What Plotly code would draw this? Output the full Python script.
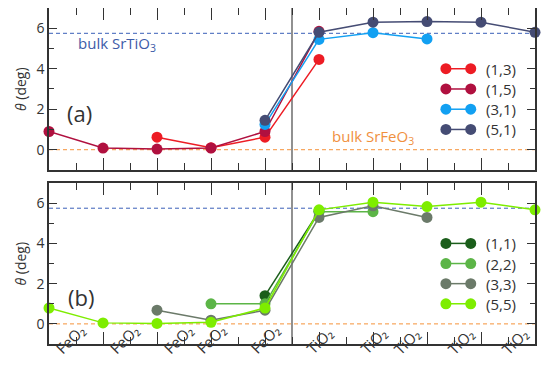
import plotly.graph_objects as go

layers = ["FeO₂"] * 5 + ["TiO₂"] * 5
positions = list(range(10))

# panel (a)
names_a = ["(1,3)", "(1,5)", "(3,1)", "(5,1)"]
vals_a = [
    [None, None, 0.62, 0.10, 0.62, 4.46, None, None, None, None],
    [0.90, 0.08, 0.03, 0.08, 0.90, 5.85, None, None, None, None],
    [None, None, None, None, 1.25, 5.45, 5.78, 5.47, None, None],
    [None, None, None, None, 1.45, 5.80, 6.30, 6.33, 6.30, 5.80],
]
colors_a = ["#ed1c24", "#b0103f", "#12a0f2", "#454c74"]

# panel (b)
names_b = ["(1,1)", "(2,2)", "(3,3)", "(5,5)"]
vals_b = [
    [None, None, None, None, 1.40, 5.60, None, None, None, None],
    [None, None, None, 1.00, 1.00, 5.58, 5.58, None, None, None],
    [None, None, 0.68, 0.18, 0.68, 5.29, 5.87, 5.29, None, None],
    [0.79, 0.05, 0.02, 0.08, 0.79, 5.67, 6.05, 5.83, 6.05, 5.67],
]
colors_b = ["#1b5e1b", "#5cb547", "#6b7a69", "#7eed00"]

bulk_SrTiO3 = 5.75
bulk_SrFeO3 = 0.0
interface = 4.5

FONT = "Open Sans"
INK = "#333333"

fig = go.Figure()

for nm, v, c in zip(names_a, vals_a, colors_a):
    fig.add_trace(go.Scatter(x=positions, y=v, mode="lines+markers", name=nm,
                             line=dict(color=c, width=1.5),
                             marker=dict(color=c, size=11),
                             cliponaxis=False, showlegend=False,
                             xaxis="x", yaxis="y"))
for nm, v, c in zip(names_b, vals_b, colors_b):
    fig.add_trace(go.Scatter(x=positions, y=v, mode="lines+markers", name=nm,
                             line=dict(color=c, width=1.5),
                             marker=dict(color=c, size=11),
                             cliponaxis=False, showlegend=False,
                             xaxis="x2", yaxis="y2"))

shapes = []
annotations = []
for xr, yr in (("x", "y"), ("x2", "y2")):
    shapes.append(dict(type="line", xref=xr, yref=yr, x0=0, x1=9, y0=bulk_SrTiO3, y1=bulk_SrTiO3,
                       line=dict(color="#3a5fb8", width=1, dash="4px,3px"), layer="below"))
    shapes.append(dict(type="line", xref=xr, yref=yr, x0=0, x1=9, y0=bulk_SrFeO3, y1=bulk_SrFeO3,
                       line=dict(color="#f5923a", width=1, dash="4px,3px"), layer="below"))
    shapes.append(dict(type="line", xref=xr, yref=yr + " domain", x0=interface, x1=interface, y0=0, y1=1,
                       line=dict(color="#555555", width=1.3), layer="below"))
    annotations.append(dict(xref=xr + " domain", yref=yr + " domain", x=0, y=0.5, xshift=-28,
                            text="<i>θ</i> (deg)", textangle=-90, showarrow=False,
                            xanchor="center", yanchor="middle",
                            font=dict(family=FONT, size=14, color=INK)))

# custom legends (line with two markers)
def add_legend(names, colors, xr, yr):
    for i, (nm, c) in enumerate(zip(names, colors)):
        yy = 4 - i
        shapes.append(dict(type="line", xref=xr, yref=yr, x0=7.35, x1=7.81, y0=yy, y1=yy,
                           line=dict(color=c, width=1.5)))
        for xa in (7.35, 7.81):
            shapes.append(dict(type="circle", xref=xr, yref=yr, xsizemode="pixel", ysizemode="pixel",
                               xanchor=xa, yanchor=yy, x0=-5.5, x1=5.5, y0=-5.5, y1=5.5,
                               fillcolor=c, line=dict(color=c, width=0)))
        annotations.append(dict(xref=xr, yref=yr, x=8.05, y=yy, text=nm, showarrow=False,
                                xanchor="left", yanchor="middle",
                                font=dict(family=FONT, size=15, color=INK)))

add_legend(names_a, colors_a, "x", "y")
add_legend(names_b, colors_b, "x2", "y2")

annotations.append(dict(xref="x", yref="y", x=0.5, y=5.2, text="bulk SrTiO<sub>3</sub>", showarrow=False,
                        xanchor="left", yanchor="middle", font=dict(family=FONT, size=15, color="#3d5ba8")))
annotations.append(dict(xref="x", yref="y", x=5.2, y=0.62, text="bulk SrFeO<sub>3</sub>", showarrow=False,
                        xanchor="left", yanchor="middle", font=dict(family=FONT, size=15, color="#f0903e")))
annotations.append(dict(xref="x", yref="y", x=0.57, y=1.8, text="(a)", showarrow=False,
                        xanchor="center", yanchor="middle", font=dict(family=FONT, size=22, color=INK)))
annotations.append(dict(xref="x2", yref="y2", x=0.59, y=1.32, text="(b)", showarrow=False,
                        xanchor="center", yanchor="middle", font=dict(family=FONT, size=22, color=INK)))

# rotated category labels under the lower panel (x domain spans 0..9 exactly)
PLOT_H = 336
for p, t in zip(positions, layers):
    annotations.append(dict(xref="paper", yref="paper", x=p / 9, y=-17 / PLOT_H, text=t,
                            showarrow=False, textangle=-45,
                            font=dict(family=FONT, size=15, color=INK)))

xcommon = dict(range=[0, 9], tick0=0, dtick=1, ticks="inside", ticklen=12, tickwidth=1.3,
               tickcolor=INK, showticklabels=False, showgrid=False, zeroline=False,
               showline=True, linecolor=INK, linewidth=1.6, mirror="allticks", automargin=False,
               minor=dict(tick0=0, dtick=0.5, ticks="inside", ticklen=7, tickwidth=1.3, tickcolor=INK))
ycommon = dict(range=[-1, 7], tick0=0, dtick=2, ticks="inside", ticklen=8, tickwidth=1.3,
               tickcolor=INK, showgrid=False, zeroline=False, automargin=False,
               showline=True, linecolor=INK, linewidth=1.6, mirror="allticks",
               tickfont=dict(family=FONT, size=14, color=INK),
               minor=dict(tick0=0, dtick=1, ticks="inside", ticklen=5, tickwidth=1.3, tickcolor=INK))

# the page body has an 8px margin on every side; size the figure so the page fits
# the window without scrollbars
fig.update_layout(
    width=536, height=361,
    margin=dict(l=41, r=9, t=0, b=25),
    paper_bgcolor="white", plot_bgcolor="white",
    xaxis=dict(**xcommon, anchor="y"),
    yaxis=dict(**ycommon, domain=[0.518, 1.0], anchor="x"),
    xaxis2=dict(**xcommon, anchor="y2"),
    yaxis2=dict(**ycommon, domain=[0.0, 0.479], anchor="x2"),
    shapes=shapes, annotations=annotations,
    showlegend=False,
    font=dict(family=FONT, color=INK),
)

fig.write_html("out.html")
